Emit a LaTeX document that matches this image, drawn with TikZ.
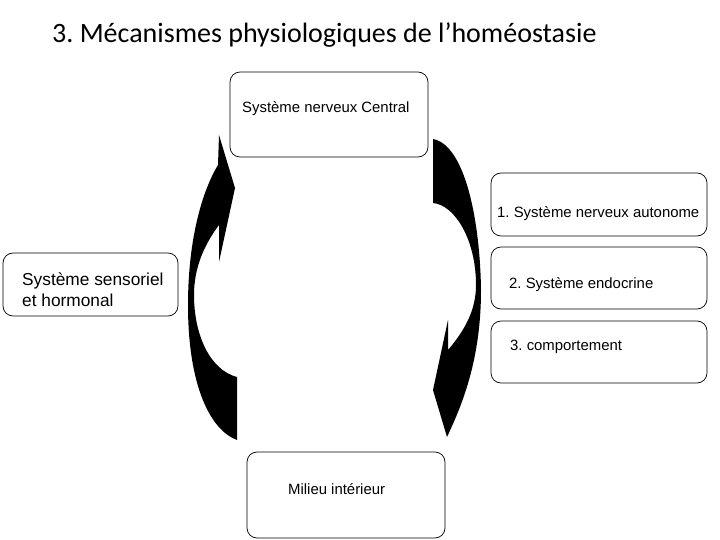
\documentclass[tikz,border=0pt]{standalone}
\usepackage{fontspec}
\setmainfont{Liberation Sans}
\newfontfamily\titlefont{Carlito}
\frenchspacing
\begin{document}
\begin{tikzpicture}[x=1pt,y=-1pt,
  boxshape/.style={draw=black,line width=0.7pt,rounded corners=10pt,inner sep=0pt,fill=white},
  lbl/.style={inner sep=0pt,anchor=base west,font=\fontsize{14.9}{17}\selectfont},
  biglbl/.style={inner sep=0pt,anchor=base west,font=\fontsize{17.3}{21}\selectfont,align=left}]
\useasboundingbox (0,0) rectangle (720,540);
% title
\node[inner sep=0pt,anchor=base west,font=\titlefont\fontsize{28}{32}\selectfont] (title) at (52,43) {3. Mécanismes physiologiques de l’homéostasie};
% boxes
\node[boxshape,minimum width=198pt,minimum height=85pt] (cns) at (329,114.5) {};
\node[boxshape,minimum width=216pt,minimum height=63pt] (sna) at (599,204.5) {};
\node[boxshape,minimum width=216pt,minimum height=62pt] (endo) at (599,278) {};
\node[boxshape,minimum width=216pt,minimum height=62pt] (comp) at (599,352) {};
\node[boxshape,minimum width=175pt,minimum height=63pt] (sens) at (90.5,284.5) {};
\node[boxshape,minimum width=198pt,minimum height=86pt] (milieu) at (346,495) {};
% texts
\node[lbl] (tcns) at (242,113) {Système nerveux Central};
\node[lbl] (tsna) at (497,218) {1. Système nerveux autonome};
\node[lbl] (tendo) at (509,288) {2. Système endocrine};
\node[lbl] (tcomp) at (510,350) {3. comportement};
\node[biglbl,anchor=north west] (tsens) at (22,272.5) {Système sensoriel\\et hormonal};
\node[lbl] (tmil) at (288,494) {Milieu intérieur};
% left curved arrow (upwards)
\fill[black] (219,135) -- (235,188) -- (219,262) -- (219,225)
  .. controls (204,245) and (194,268) .. (194,295)
  .. controls (194,335) and (210,370) .. (237,377)
  -- (237,440)
  .. controls (210,430) and (188,385) .. (188,305)
  .. controls (188,245) and (200,195) .. (218,165)
  -- cycle;
% right curved arrow (downwards)
\fill[black] (433,139)
  .. controls (465,145) and (480,220) .. (481,290)
  .. controls (481,360) and (462,405) .. (447,437)
  -- (433,390) -- (448,320) -- (448,350)
  .. controls (465,330) and (476,310) .. (476,285)
  .. controls (476,240) and (455,205) .. (433,203)
  -- cycle;
\end{tikzpicture}
\end{document}
